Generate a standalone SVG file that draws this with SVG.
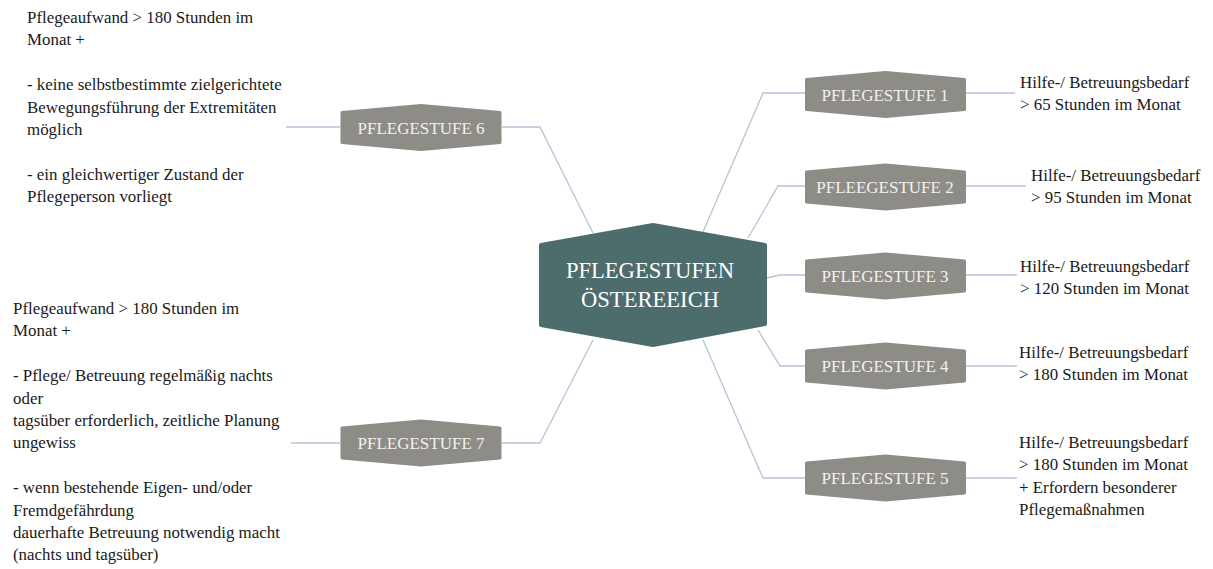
<svg xmlns="http://www.w3.org/2000/svg" width="1213" height="569" viewBox="0 0 1213 569">
<style>
  .conn { fill: none; stroke: #b7c4d8; stroke-width: 1.3; }
  .small { fill: #8e8c87; stroke: #8e8c87; stroke-width: 3; stroke-linejoin: round; }
  .center { fill: #4d6d6d; stroke: #4d6d6d; stroke-width: 4; stroke-linejoin: round; }
  text { font-family: 'Liberation Serif', 'DejaVu Serif', serif; }
  .lbl { font-size: 17px; fill: #f2f1ee; text-anchor: middle; }
  .clbl { font-size: 22.6px; fill: #ffffff; text-anchor: middle; }
  .note { font-size: 16.9px; fill: #1a1a1a; }
</style>
<defs>
  <polygon id="hexs" points="-79,-15 0,-22 79,-15 79,15 0,22 -79,15"/>
</defs>
<rect width="1213" height="569" fill="#ffffff"/>

<g id="connectors">
  <polyline class="conn" points="703,232 763,93 805,93"/>
  <polyline class="conn" points="748,238 778,186 805,186"/>
  <polyline class="conn" points="767,278 780,275 805,275"/>
  <polyline class="conn" points="758,330 780,366 805,366"/>
  <polyline class="conn" points="703,340 763,478 805,478"/>
  <polyline class="conn" points="593,233 540,127 502,127"/>
  <polyline class="conn" points="593,340 540,443 502,443"/>
  <line class="conn" x1="966" y1="93" x2="1015" y2="93"/>
  <line class="conn" x1="966" y1="186" x2="1026" y2="186"/>
  <line class="conn" x1="966" y1="275" x2="1017" y2="275"/>
  <line class="conn" x1="966" y1="366" x2="1017" y2="366"/>
  <line class="conn" x1="966" y1="478" x2="1017" y2="478"/>
  <line class="conn" x1="286" y1="127" x2="340" y2="127"/>
  <line class="conn" x1="291" y1="443" x2="340" y2="443"/>
</g>

<g id="center-node">
  <polygon class="center" points="541,245 653,225 765,245 765,324 653,345 541,325"/>
  <text class="clbl" x="650" y="278">PFLEGESTUFEN</text>
  <text class="clbl" x="650" y="307">ÖSTEREEICH</text>
</g>

<g id="node-1">
  <use href="#hexs" class="small" transform="translate(885.5,94.5)"/>
  <text class="lbl" x="885" y="100.5">PFLEGESTUFE 1</text>
</g>
<g id="node-2">
  <use href="#hexs" class="small" transform="translate(885.5,187)"/>
  <text class="lbl" x="885" y="193">PFLEEGESTUFE 2</text>
</g>
<g id="node-3">
  <use href="#hexs" class="small" transform="translate(885.5,276)"/>
  <text class="lbl" x="885" y="282">PFLEGESTUFE 3</text>
</g>
<g id="node-4">
  <use href="#hexs" class="small" transform="translate(885.5,366)"/>
  <text class="lbl" x="885" y="372">PFLEGESTUFE 4</text>
</g>
<g id="node-5">
  <use href="#hexs" class="small" transform="translate(885.5,478)"/>
  <text class="lbl" x="885" y="484">PFLEGESTUFE 5</text>
</g>
<g id="node-6">
  <use href="#hexs" class="small" transform="translate(421,127.5)"/>
  <text class="lbl" x="421" y="133.5">PFLEGESTUFE 6</text>
</g>
<g id="node-7">
  <use href="#hexs" class="small" transform="translate(421,443)"/>
  <text class="lbl" x="421" y="449">PFLEGESTUFE 7</text>
</g>

<g id="text-1">
  <text class="note" x="1020" y="88">Hilfe-/ Betreuungsbedarf</text>
  <text class="note" x="1020" y="110">&gt; 65 Stunden im Monat</text>
</g>
<g id="text-2">
  <text class="note" x="1031" y="181">Hilfe-/ Betreuungsbedarf</text>
  <text class="note" x="1031" y="203">&gt; 95 Stunden im Monat</text>
</g>
<g id="text-3">
  <text class="note" x="1020" y="272">Hilfe-/ Betreuungsbedarf</text>
  <text class="note" x="1020" y="294">&gt; 120 Stunden im Monat</text>
</g>
<g id="text-4">
  <text class="note" x="1019" y="358">Hilfe-/ Betreuungsbedarf</text>
  <text class="note" x="1019" y="380">&gt; 180 Stunden im Monat</text>
</g>
<g id="text-5">
  <text class="note" x="1019" y="448">Hilfe-/ Betreuungsbedarf</text>
  <text class="note" x="1019" y="470">&gt; 180 Stunden im Monat</text>
  <text class="note" x="1019" y="492.5">+ Erfordern besonderer</text>
  <text class="note" x="1019" y="515">Pflegemaßnahmen</text>
</g>
<g id="text-6">
  <text class="note" x="27" y="23">Pflegeaufwand &gt; 180 Stunden im</text>
  <text class="note" x="27" y="45.4">Monat +</text>
  <text class="note" x="27" y="90.2">- keine selbstbestimmte zielgerichtete</text>
  <text class="note" x="27" y="112.6">Bewegungsführung der Extremitäten</text>
  <text class="note" x="27" y="135">möglich</text>
  <text class="note" x="27" y="179.8">- ein gleichwertiger Zustand der</text>
  <text class="note" x="27" y="202.2">Pflegeperson vorliegt</text>
</g>
<g id="text-7">
  <text class="note" x="13" y="314">Pflegeaufwand &gt; 180 Stunden im</text>
  <text class="note" x="13" y="336.4">Monat +</text>
  <text class="note" x="13" y="381.2">- Pflege/ Betreuung regelmäßig nachts</text>
  <text class="note" x="13" y="403.6">oder</text>
  <text class="note" x="13" y="426">tagsüber erforderlich, zeitliche Planung</text>
  <text class="note" x="13" y="448.4">ungewiss</text>
  <text class="note" x="13" y="493.2">- wenn bestehende Eigen- und/oder</text>
  <text class="note" x="13" y="515.6">Fremdgefährdung</text>
  <text class="note" x="13" y="538">dauerhafte Betreuung notwendig macht</text>
  <text class="note" x="13" y="560.4">(nachts und tagsüber)</text>
</g>
</svg>
